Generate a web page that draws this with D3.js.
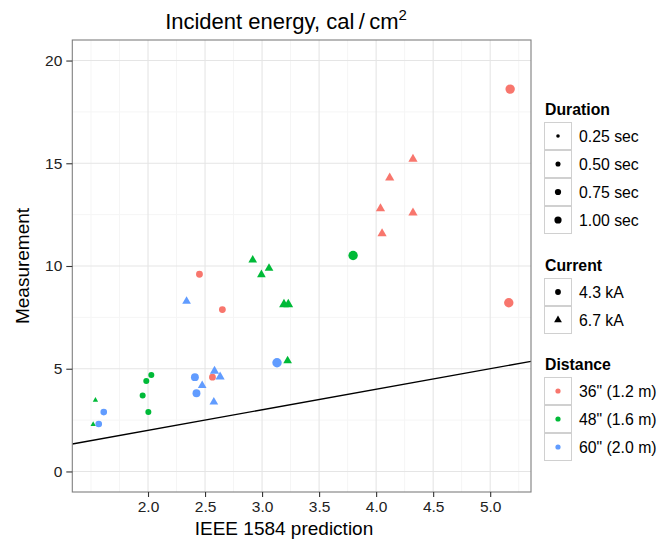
<!DOCTYPE html>
<html>
<head>
<meta charset="utf-8">
<script src="https://cdn.jsdelivr.net/npm/d3@7"></script>
<style>
  body { margin: 0; background: #fff; }
  svg text { font-family: "Liberation Sans", Arial, sans-serif; }
</style>
</head>
<body>
<div id="chart"></div>
<script>
// Arc flash tests: IEEE 1584 prediction vs measured incident energy
const prediction = [
  5.175, 5.163, 2.451, 2.652, 2.565,
  4.323, 4.119, 4.038, 4.323, 4.052,
  2.029, 1.985, 1.953, 2.003, 3.798,
  1.539, 1.519, 2.918, 3.061, 2.994, 3.192, 3.230, 3.224,
  1.612, 1.568, 2.411, 2.425, 3.131,
  2.338, 2.475, 2.583, 2.632, 2.577,
];
const measurement = [
  18.61, 8.21, 9.60, 7.88, 4.59,
  15.20, 14.29, 12.80, 12.59, 11.58,
  4.69, 4.40, 3.70, 2.89, 10.51,
  3.47, 2.29, 10.29, 9.89, 9.58, 8.13, 8.13, 5.39,
  2.89, 2.31, 4.59, 3.81, 5.29,
  8.28, 4.18, 4.89, 4.61, 3.38,
];
// seconds
const duration = [
  1.7, 1.7, 0.9, 0.9, 0.9,
  0.9, 0.9, 0.9, 0.9, 0.9,
  0.7, 0.7, 0.7, 0.7, 1.7,
  0.3, 0.3, 0.8, 0.8, 0.8, 1.0, 1.0, 0.8,
  0.85, 0.85, 1.2, 1.2, 1.7,
  0.8, 0.8, 0.9, 0.9, 0.8,
];
// index into currents
const current = [
  0, 0, 0, 0, 0,
  1, 1, 1, 1, 1,
  0, 0, 0, 0, 0,
  1, 1, 1, 1, 1, 1, 1, 1,
  0, 0, 0, 0, 0,
  1, 1, 1, 1, 1,
];
// index into distances
const distance = [
  0, 0, 0, 0, 0,
  0, 0, 0, 0, 0,
  1, 1, 1, 1, 1,
  1, 1, 1, 1, 1, 1, 1, 1,
  2, 2, 2, 2, 2,
  2, 2, 2, 2, 2,
];

const durationBreaks = [0.25, 0.5, 0.75, 1.0];
const durationLabels = ["0.25 sec", "0.50 sec", "0.75 sec", "1.00 sec"];
const currents = ["4.3 kA", "6.7 kA"];
const distances = ['36" (1.2 m)', '48" (1.6 m)', '60" (2.0 m)'];
const distanceColors = ["#F8766D", "#00BA38", "#619CFF"];

const xTicks = [2.0, 2.5, 3.0, 3.5, 4.0, 4.5, 5.0];
const xMinor = [1.5, 1.75, 2.25, 2.75, 3.25, 3.75, 4.25, 4.75, 5.25];
const yTicks = [0, 5, 10, 15, 20];
const yMinor = [2.5, 7.5, 12.5, 17.5];

const width = 671;
const height = 543;
const panel = { left: 72.3, right: 531, top: 40, bottom: 492 };

const svg = d3
  .select("#chart")
  .append("svg")
  .attr("width", width)
  .attr("height", height);

// ggplot-style 5% expansion around the data
const xExt = d3.extent(prediction);
const xPad = (xExt[1] - xExt[0]) * 0.05;
const x = d3
  .scaleLinear()
  .domain([xExt[0] - xPad, xExt[1] + xPad])
  .range([panel.left, panel.right]);
const y = d3
  .scaleLinear()
  .domain([-1, 21])
  .range([panel.bottom, panel.top]);

// point radius: area proportional to duration
const r = d3.scaleSqrt().domain([0, 2]).range([0, 5.1]);

const symbolPath = (shape, radius) => {
  if (shape === 0) return d3.symbol(d3.symbolCircle, Math.PI * radius * radius)();
  // triangle with circumradius 1.555 × circle radius (R pch 17)
  const rt = 1.555 * radius;
  return d3.symbol(d3.symbolTriangle, (3 * Math.sqrt(3) * rt * rt) / 4)();
};

// Panel background and grid
const g = svg.append("g");
g.append("rect")
  .attr("x", panel.left)
  .attr("y", panel.top)
  .attr("width", panel.right - panel.left)
  .attr("height", panel.bottom - panel.top)
  .attr("fill", "#fff");

g.selectAll(".xminor")
  .data(xMinor)
  .join("line")
  .attr("x1", (d) => x(d))
  .attr("x2", (d) => x(d))
  .attr("y1", panel.top)
  .attr("y2", panel.bottom)
  .attr("stroke", "#f5f5f5")
  .attr("stroke-width", 1);
g.selectAll(".yminor")
  .data(yMinor)
  .join("line")
  .attr("x1", panel.left)
  .attr("x2", panel.right)
  .attr("y1", (d) => y(d))
  .attr("y2", (d) => y(d))
  .attr("stroke", "#f5f5f5")
  .attr("stroke-width", 1);
g.selectAll(".xmajor")
  .data(xTicks)
  .join("line")
  .attr("x1", (d) => x(d))
  .attr("x2", (d) => x(d))
  .attr("y1", panel.top)
  .attr("y2", panel.bottom)
  .attr("stroke", "#e5e5e5")
  .attr("stroke-width", 1.1);
g.selectAll(".ymajor")
  .data(yTicks)
  .join("line")
  .attr("x1", panel.left)
  .attr("x2", panel.right)
  .attr("y1", (d) => y(d))
  .attr("y2", (d) => y(d))
  .attr("stroke", "#e5e5e5")
  .attr("stroke-width", 1.1);

// Points, in data order
const points = prediction.map((p, i) => ({
  x: p,
  y: measurement[i],
  dur: duration[i],
  cur: current[i],
  dist: distance[i],
}));

g.append("g")
  .selectAll("path")
  .data(points)
  .join("path")
  .attr("transform", (d) => `translate(${x(d.x)},${y(d.y)})`)
  .attr("d", (d) => symbolPath(d.cur, r(d.dur)))
  .attr("fill", (d) => distanceColors[d.dist]);

// Reference line: measurement = prediction
const [x0, x1] = x.domain();
g.append("line")
  .attr("x1", x(x0))
  .attr("y1", y(x0))
  .attr("x2", x(x1))
  .attr("y2", y(x1))
  .attr("stroke", "#000")
  .attr("stroke-width", 1.3);

// Panel border
g.append("rect")
  .attr("x", panel.left)
  .attr("y", panel.top)
  .attr("width", panel.right - panel.left)
  .attr("height", panel.bottom - panel.top)
  .attr("fill", "none")
  .attr("stroke", "#7f7f7f")
  .attr("stroke-width", 1.1);

// Axes
const xAxis = svg
  .append("g")
  .attr("transform", `translate(0,${panel.bottom})`)
  .call(d3.axisBottom(x).tickValues(xTicks).tickFormat(d3.format(".1f")).tickSize(5).tickPadding(4));
const yAxis = svg
  .append("g")
  .attr("transform", `translate(${panel.left},0)`)
  .call(d3.axisLeft(y).tickValues(yTicks).tickSize(6).tickPadding(4));

[xAxis, yAxis].forEach((ax) => {
  ax.select(".domain").remove();
  ax.selectAll(".tick line").attr("stroke", "#333").attr("stroke-width", 1.1);
  ax.selectAll(".tick text")
    .attr("fill", "#222")
    .style("font-size", "15.5px")
    .style("font-family", '"Liberation Sans", Arial, sans-serif');
});

// Titles
const title = svg
  .append("text")
  .attr("x", 286)
  .attr("y", 29)
  .attr("text-anchor", "middle")
  .style("font-size", "22px");
title.append("tspan").text("Incident energy, cal\u2009/\u2009cm");
title.append("tspan").attr("dy", -9).style("font-size", "15px").text("2");

svg.append("text")
  .attr("x", 284)
  .attr("y", 535)
  .attr("text-anchor", "middle")
  .style("font-size", "19px")
  .text("IEEE 1584 prediction");

svg.append("text")
  .attr("transform", `translate(29,${(panel.top + panel.bottom) / 2}) rotate(-90)`)
  .attr("text-anchor", "middle")
  .style("font-size", "19px")
  .text("Measurement");

// Legends
const legendX = 544;
const keySize = 28;

function legend(titleText, top, items, drawKey) {
  const lg = svg.append("g").attr("transform", `translate(${legendX},${top})`);
  lg.append("text")
    .attr("x", 1)
    .attr("y", -7)
    .style("font-size", "15.8px")
    .style("font-weight", "bold")
    .text(titleText);
  const row = lg
    .selectAll(".key")
    .data(items)
    .join("g")
    .attr("transform", (d, i) => `translate(0,${i * keySize})`);
  row.append("rect")
    .attr("x", 0.5)
    .attr("y", 0.5)
    .attr("width", keySize - 1)
    .attr("height", keySize - 1)
    .attr("fill", "#fff")
    .attr("stroke", "#d0d0d0");
  row.append("path")
    .attr("transform", `translate(${keySize / 2},${keySize / 2})`)
    .attr("d", (d, i) => drawKey(d, i).d)
    .attr("fill", (d, i) => drawKey(d, i).fill);
  row.append("text")
    .attr("x", keySize + 7)
    .attr("y", keySize / 2 + 5.5)
    .style("font-size", "15.8px")
    .text((d) => d.label);
}

legend(
  "Duration",
  122,
  durationBreaks.map((v, i) => ({ value: v, label: durationLabels[i] })),
  (d) => ({ d: symbolPath(0, r(d.value)), fill: "#000" }),
);
legend(
  "Current",
  278,
  currents.map((c, i) => ({ value: i, label: c })),
  (d) => ({ d: symbolPath(d.value, 2.9), fill: "#000" }),
);
legend(
  "Distance",
  377,
  distances.map((c, i) => ({ value: i, label: c })),
  (d, i) => ({ d: symbolPath(0, 2.6), fill: distanceColors[i] }),
);
</script>
</body>
</html>
